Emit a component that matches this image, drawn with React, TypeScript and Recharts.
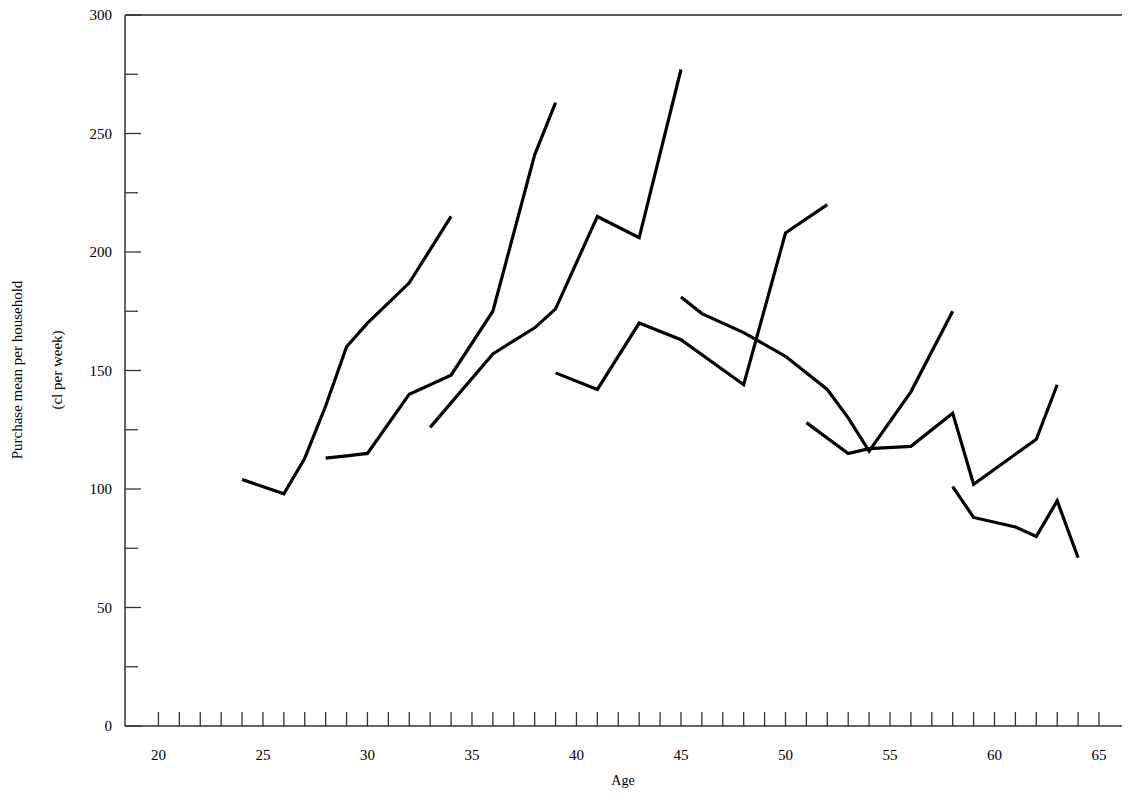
import { LineChart, Line, XAxis, YAxis, ReferenceLine } from 'recharts';

// each cohort is a separate broken line
const cohort1 = [[24, 104], [26, 98], [27, 113], [28, 135], [29, 160], [30, 170], [32, 187], [33, 201], [34, 215]];
const cohort2 = [[28, 113], [29, 114], [30, 115], [32, 140], [34, 148], [36, 175], [38, 241], [39, 263]];
const cohort3 = [[33, 126], [36, 157], [38, 168], [39, 176], [41, 215], [43, 206], [45, 277]];
const cohort4 = [[39, 149], [41, 142], [43, 170], [45, 163], [48, 144], [50, 208], [52, 220]];
const cohort5 = [[45, 181], [46, 174], [48, 166], [50, 156], [52, 142], [53, 130], [54, 116], [56, 141], [58, 175]];
const cohort6 = [[51, 128], [53, 115], [54, 117], [56, 118], [58, 132], [59, 102], [62, 121], [63, 144]];
const cohort7 = [[58, 101], [59, 88], [61, 84], [62, 80], [63, 95], [64, 71]];

const cohorts = [cohort1, cohort2, cohort3, cohort4, cohort5, cohort6, cohort7];
const xTicks = Array.from({ length: 46 }, (_, i) => 20 + i);
const yTicks = [0, 25, 50, 75, 100, 125, 150, 175, 200, 225, 250, 275, 300];

const font = "'Liberation Serif', 'Times New Roman', serif";

const XTick = (props: any) => {
  const { x, y, payload } = props;
  const v = payload.value;
  return (
    <g>
      <line x1={x} x2={x} y1={y - 14} y2={y} stroke="#333" strokeWidth={1.3} />
      {v % 5 === 0 && (
        <text x={x} y={y + 34} textAnchor="middle" fontSize={15} style={{ fontFamily: font }} fill="#000">{v}</text>
      )}
    </g>
  );
};

const YTick = (props: any) => {
  const { x, y, payload } = props;
  const v = payload.value;
  const major = v % 50 === 0;
  return (
    <g>
      <line x1={x} x2={x + (major ? 16 : 13)} y1={y} y2={y} stroke="#333" strokeWidth={1.3} />
      {major && (
        <text x={x - 13} y={y + 5} textAnchor="end" fontSize={15} style={{ fontFamily: font }} fill="#000">{v}</text>
      )}
    </g>
  );
};

export default function App() {
  return (
    <div style={{ margin: -8, background: '#fff', width: 1134, height: 796, fontFamily: font }}>
      <LineChart width={1134} height={796} margin={{ top: 15, right: 12, left: 80, bottom: 20 }} style={{ fontFamily: font }}>
        <XAxis
          type="number"
          dataKey="x"
          domain={[18.4, 66.1]}
          ticks={xTicks}
          tick={<XTick />}
          tickLine={false}
          tickSize={0}
          tickMargin={0}
          height={50}
          interval={0}
          stroke="#333"
          strokeWidth={1.5}
          allowDuplicatedCategory={false}
          label={{
            content: () => (
              <text x={623} y={785} textAnchor="middle" fontSize={14} style={{ fontFamily: font }} fill="#000">Age</text>
            ),
          }}
        />
        <YAxis
          type="number"
          domain={[0, 300]}
          ticks={yTicks}
          tick={<YTick />}
          tickLine={false}
          tickSize={0}
          tickMargin={0}
          width={45}
          interval={0}
          stroke="#333"
          strokeWidth={1.5}
          label={{
            content: () => (
              <g fontSize={15} style={{ fontFamily: font }} fill="#000">
                <text transform="translate(22,370) rotate(-90)" textAnchor="middle">Purchase mean per household</text>
                <text transform="translate(62,370) rotate(-90)" textAnchor="middle">(cl per week)</text>
              </g>
            ),
          }}
        />
        <ReferenceLine y={300} stroke="#222" strokeWidth={1.3} />
        {cohorts.map((c, i) => (
          <Line
            key={i}
            data={c.map(([x, y]) => ({ x, y }))}
            dataKey="y"
            type="linear"
            stroke="#000"
            strokeWidth={3.2}
            dot={false}
            isAnimationActive={false}
          />
        ))}
      </LineChart>
    </div>
  );
}
